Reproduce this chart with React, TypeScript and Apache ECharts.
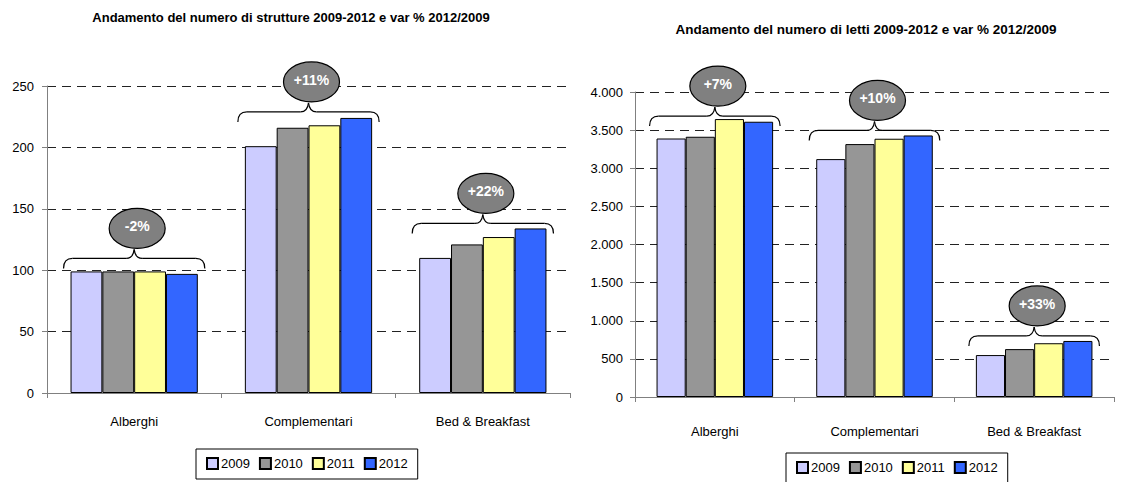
import React, { useEffect, useRef } from "react";
import * as echarts from "echarts";

const categories = ["Alberghi", "Complementari", "Bed & Breakfast"];
const years = ["2009", "2010", "2011", "2012"];
const yearColors = ["#CCCCFF", "#969696", "#FFFF99", "#3366FF"];

const strutture2009 = [99, 201, 110];
const strutture2010 = [99, 216, 121];
const strutture2011 = [99, 218, 127];
const strutture2012 = [97, 224, 134];
const struttureVar = ["-2%", "+11%", "+22%"];

const letti2009 = [3390, 3120, 550];
const letti2010 = [3413, 3317, 628];
const letti2011 = [3645, 3387, 705];
const letti2012 = [3610, 3430, 735];
const lettiVar = ["+7%", "+10%", "+33%"];

const struttureTicks = { min: 0, max: 250, interval: 50 };
const lettiTicks = { min: 0, max: 4000, interval: 500 };

const FONT = "Liberation Sans";
const GAP = 0.27;

export default function App() {
  const ref = useRef<HTMLDivElement>(null);
  useEffect(() => {
    document.body.style.margin = "0";
    const chart = echarts.init(ref.current!, null, { renderer: "svg" });
    const strData = [strutture2009, strutture2010, strutture2011, strutture2012];
    const letData = [letti2009, letti2010, letti2011, letti2012];

    const xAxisBase = (gridIndex: number, margin: number) => ({
      type: "category",
      gridIndex,
      data: categories,
      axisLine: { show: true, lineStyle: { color: "#808080", width: 1 } },
      axisTick: { show: true, length: 5, alignWithLabel: false, lineStyle: { color: "#808080" } },
      axisLabel: { color: "#000", fontFamily: FONT, fontSize: 13, margin },
      splitLine: { show: false },
    });
    const yAxisBase = (gridIndex: number, ticks: any, margin: number, fmt: (v: number) => string) => ({
      type: "value",
      gridIndex,
      min: ticks.min,
      max: ticks.max,
      interval: ticks.interval,
      axisLine: { show: true, lineStyle: { color: "#808080", width: 1 } },
      axisTick: { show: true, length: 5, inside: false, lineStyle: { color: "#808080" } },
      axisLabel: { color: "#000", fontFamily: FONT, fontSize: 13, margin, formatter: fmt },
      splitLine: { show: true, lineStyle: { color: "#222", type: [9, 6], width: 1 } },
    });

    const series: any[] = [];
    years.forEach((y, k) => {
      series.push({
        type: "bar",
        name: y,
        xAxisIndex: 0,
        yAxisIndex: 0,
        data: strData[k],
        barGap: "0%",
        barCategoryGap: GAP * 100 + "%",
        itemStyle: { color: yearColors[k], borderColor: "#000", borderWidth: 1 },
      });
    });
    years.forEach((y, k) => {
      series.push({
        type: "bar",
        name: y,
        xAxisIndex: 1,
        yAxisIndex: 1,
        data: letData[k],
        barGap: "0%",
        barCategoryGap: GAP * 100 + "%",
        itemStyle: { color: yearColors[k], borderColor: "#000", borderWidth: 1 },
      });
    });

    const legendBase = (left: number, top: number) => ({
      data: years,
      left,
      top,
      orient: "horizontal",
      borderColor: "#000",
      borderWidth: 1,
      padding: [8, 10, 9, 10],
      itemWidth: 11,
      itemHeight: 11,
      itemGap: 9,
      icon: "rect",
      textStyle: { color: "#000", fontFamily: FONT, fontSize: 13, padding: [0, 0, 0, -2] },
    });

    chart.setOption({
      animation: false,
      backgroundColor: "#fff",
      title: [
        {
          text: "Andamento del numero di strutture 2009-2012 e var % 2012/2009",
          left: 291,
          top: 11,
          textAlign: "center",
          padding: 0,
          textStyle: { fontFamily: FONT, fontSize: 13, fontWeight: "bold", color: "#000" },
        },
        {
          text: "Andamento del numero di letti 2009-2012 e var % 2012/2009",
          left: 866,
          top: 22,
          textAlign: "center",
          padding: 0,
          textStyle: { fontFamily: FONT, fontSize: 13.5, fontWeight: "bold", color: "#000" },
        },
      ],
      legend: [legendBase(196, 449), legendBase(786, 453)],
      grid: [
        { left: 47, top: 86, width: 523, height: 307 },
        { left: 635, top: 92, width: 479, height: 305 },
      ],
      xAxis: [xAxisBase(0, 22), xAxisBase(1, 28)],
      yAxis: [
        yAxisBase(0, struttureTicks, 13, (v: number) => String(v)),
        yAxisBase(1, lettiTicks, 12, (v: number) => v.toLocaleString("de-DE")),
      ],
      series,
    });

    const graphics: any[] = [];
    const addCallouts = (g: number, data: number[][], labels: string[], offsets: number[]) => {
      const p0 = chart.convertToPixel({ gridIndex: g } as any, [0, 0]) as number[];
      const p1 = chart.convertToPixel({ gridIndex: g } as any, [1, 0]) as number[];
      const band = p1[0] - p0[0];
      const half = (band * (1 - GAP)) / 2;
      categories.forEach((_, i) => {
        const maxVal = Math.max(...data.map((d) => d[i]));
        const p = chart.convertToPixel({ gridIndex: g } as any, [i, maxVal]) as number[];
        const xc = p[0];
        const by = p[1] - offsets[i];
        const x1 = xc - half - 7;
        const x2 = xc + half + 7;
        const st = { stroke: "#000", lineWidth: 1.2, fill: "none" };
        graphics.push(
          { type: "bezierCurve", shape: { x1, y1: by + 10, x2: x1 + 9, y2: by, cpx1: x1, cpy1: by }, style: st, silent: true },
          { type: "line", shape: { x1: x1 + 9, y1: by, x2: xc - 8, y2: by }, style: st, silent: true },
          { type: "bezierCurve", shape: { x1: xc - 8, y1: by, x2: xc, y2: by - 9, cpx1: xc - 1, cpy1: by }, style: st, silent: true },
          { type: "bezierCurve", shape: { x1: xc, y1: by - 9, x2: xc + 8, y2: by, cpx1: xc + 1, cpy1: by }, style: st, silent: true },
          { type: "line", shape: { x1: xc + 8, y1: by, x2: x2 - 9, y2: by }, style: st, silent: true },
          { type: "bezierCurve", shape: { x1: x2 - 9, y1: by, x2, y2: by + 10, cpx1: x2, cpy1: by }, style: st, silent: true },
          {
            type: "ellipse",
            shape: { cx: xc + 3, cy: by - 30, rx: 28, ry: 20 },
            style: { fill: "#808080", stroke: "#000", lineWidth: 1.2 },
            z: 10,
            silent: true,
          },
          {
            type: "text",
            x: xc + 3,
            y: by - 32,
            z: 11,
            silent: true,
            style: {
              text: labels[i],
              fill: "#fff",
              font: `bold 14px "${FONT}"`,
              align: "center",
              verticalAlign: "middle",
              textAlign: "center",
              textVerticalAlign: "middle",
            },
          }
        );
      });
    };
    addCallouts(0, strData, struttureVar, [13, 6, 5]);
    addCallouts(1, letData, lettiVar, [3, 5, 5]);
    chart.setOption({ graphic: graphics });

    return () => chart.dispose();
  }, []);
  return <div ref={ref} style={{ position: "fixed", left: 0, top: 0, width: 1141, height: 482 }} />;
}
